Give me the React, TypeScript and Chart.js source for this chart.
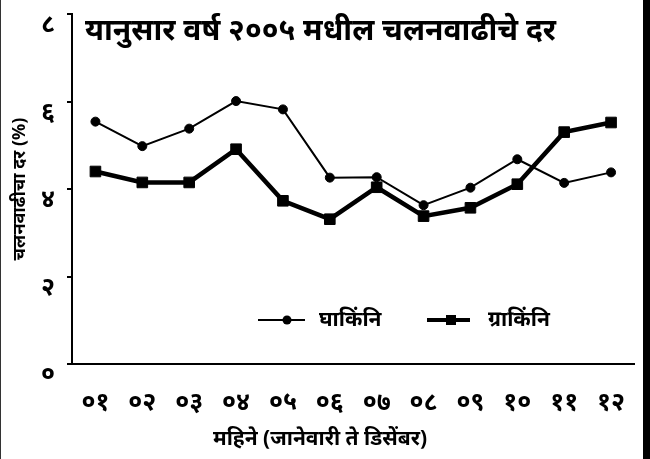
import React, { useEffect, useRef } from "react";
import { Chart, registerables } from "chart.js";

Chart.register(...registerables);

const months = ["०१", "०२", "०३", "०४", "०५", "०६", "०७", "०८", "०९", "१०", "११", "१२"];
const ghakinni = [5.54, 4.98, 5.38, 6.01, 5.82, 4.26, 4.27, 3.63, 4.03, 4.68, 4.14, 4.38];
const grakinni = [4.4, 4.15, 4.15, 4.91, 3.73, 3.31, 4.04, 3.38, 3.57, 4.11, 5.3, 5.52];
const yTickLabels = ["०", "२", "४", "६", "८"];
const seriesNames = ["घाकिंनि", "ग्राकिंनि"];
const chartTitle = "यानुसार वर्ष २००५ मधील चलनवाढीचे दर";
const xTitle = "महिने (जानेवारी ते डिसेंबर)";
const yTitle = "चलनवाढीचा दर (%)";

const FONT = '"Noto Sans", "DejaVu Sans", sans-serif';

export default function App() {
  const ref = useRef<HTMLCanvasElement | null>(null);

  useEffect(() => {
    if (!ref.current) return;
    const overlay = {
      id: "overlay",
      afterDraw(chart: any) {
        const ctx = chart.ctx;
        ctx.save();
        ctx.fillStyle = "#000";
        ctx.strokeStyle = "#000";
        // Title
        ctx.font = `bold 30px ${FONT}`;
        ctx.textAlign = "left";
        ctx.textBaseline = "middle";
        ctx.fillText(chartTitle, 84, 31);
        // X title
        ctx.font = `bold 21px ${FONT}`;
        ctx.textAlign = "center";
        ctx.fillText(xTitle, 319, 439);
        // Legend
        const ly = 320;
        ctx.lineWidth = 2;
        ctx.beginPath();
        ctx.moveTo(257, ly);
        ctx.lineTo(304, ly);
        ctx.stroke();
        ctx.beginPath();
        ctx.arc(286, ly, 4.5, 0, Math.PI * 2);
        ctx.fill();
        ctx.font = `bold 21px ${FONT}`;
        ctx.textAlign = "left";
        ctx.fillText(seriesNames[0], 318, ly);
        ctx.lineWidth = 4;
        ctx.beginPath();
        ctx.moveTo(426, ly);
        ctx.lineTo(469, ly);
        ctx.stroke();
        ctx.fillRect(445, ly - 5, 10, 10);
        ctx.fillText(seriesNames[1], 487, ly);
        ctx.restore();
      },
    };

    const chart = new Chart(ref.current, {
      type: "line",
      data: {
        labels: months,
        datasets: [
          {
            label: seriesNames[0],
            data: ghakinni,
            borderColor: "#000",
            backgroundColor: "#000",
            borderWidth: 2,
            pointStyle: "circle",
            pointRadius: 4.5,
            pointBorderWidth: 1,
            pointBackgroundColor: "#000",
            pointBorderColor: "#000",
            tension: 0,
          },
          {
            label: seriesNames[1],
            data: grakinni,
            borderColor: "#000",
            backgroundColor: "#000",
            borderWidth: 4.5,
            pointStyle: "rect",
            pointRadius: 7.5,
            pointBorderWidth: 1,
            pointBackgroundColor: "#000",
            pointBorderColor: "#000",
            tension: 0,
          },
        ],
      },
      options: {
        responsive: false,
        animation: false,
        devicePixelRatio: 1,
        layout: { padding: { left: 0, right: 6, top: 14, bottom: 0 } },
        plugins: {
          legend: { display: false },
          tooltip: { enabled: false },
          title: { display: false },
        },
        scales: {
          x: {
            type: "category",
            offset: true,
            grid: { display: false },
            border: { display: true, color: "#000", width: 2 },
            ticks: {
              color: "#000",
              font: { family: FONT, size: 25, weight: "bold" },
              padding: 16,
              maxRotation: 0,
              autoSkip: false,
            },
            afterFit: (scale: any) => {
              scale.height = 95;
              scale.paddingLeft = 0;
              scale.paddingRight = 0;
            },
          },
          y: {
            min: 0,
            max: 8,
            grid: {
              display: true,
              drawOnChartArea: false,
              drawTicks: true,
              tickLength: 5,
              color: "#000",
              lineWidth: 2,
            },
            border: { display: true, color: "#000", width: 2 },
            ticks: {
              stepSize: 2,
              color: "#000",
              font: { family: FONT, size: 25, weight: "bold" },
              padding: 12,
              labelOffset: 11,
              callback: (v: any) => yTickLabels[Math.round(Number(v) / 2)],
            },
            title: {
              display: true,
              text: yTitle,
              color: "#000",
              font: { family: FONT, size: 18, weight: "bold" },
              padding: { top: 8, bottom: 0 },
            },
            afterFit: (scale: any) => {
              scale.width = 71;
              scale.paddingTop = 0;
              scale.paddingBottom = 0;
            },
          },
        },
      },
      plugins: [overlay],
    });
    return () => chart.destroy();
  }, []);

  return (
    <div
      style={{
        position: "absolute",
        left: 0,
        top: 0,
        width: 650,
        height: 459,
        boxSizing: "border-box",
        background: "#fff",
        borderLeft: "1px solid #333",
        borderRight: "7px solid #000",
      }}
    >
      <canvas ref={ref} width={642} height={459} style={{ display: "block" }} />
    </div>
  );
}
